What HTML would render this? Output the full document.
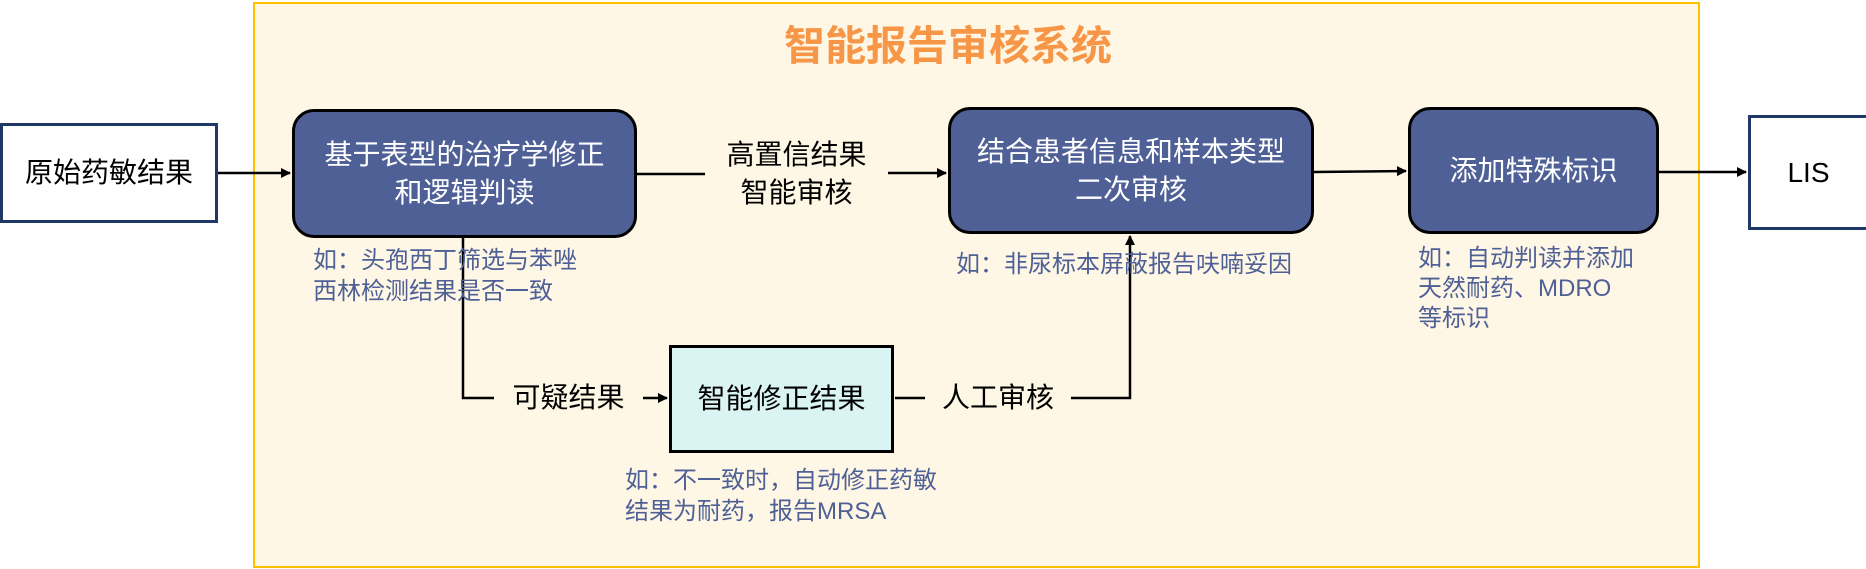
<!DOCTYPE html>
<html><head><meta charset="utf-8"><style>
body{margin:0;width:1866px;height:569px;background:#fff;position:relative;overflow:hidden;font-family:"Liberation Sans","Noto Sans CJK SC",sans-serif}
.a{position:absolute;box-sizing:border-box}
.frame{left:253px;top:2px;width:1447px;height:566px;border:2px solid #FFC000;background:#FFF7E5}
.b{display:flex;align-items:center;justify-content:center;text-align:center;line-height:38px;font-size:28px}
.dark{background:#4F6096;border:3px solid #000;border-radius:22px;color:#fff}
.note{color:#4F6096;font-size:24px;line-height:31px;white-space:nowrap}
.lbl{font-size:28px;line-height:38px;text-align:center;color:#000;white-space:nowrap}
</style></head><body>
<div class="a frame"></div>
<div class="a" style="left:650px;top:12px;width:596px;text-align:center;font-size:41px;font-weight:bold;color:#F79646">智能报告审核系统</div>
<svg class="a" style="left:0;top:0" width="1866" height="569">
<defs><marker id="m" markerWidth="10" markerHeight="10" refX="9" refY="5" orient="auto" markerUnits="userSpaceOnUse"><path d="M0,0 L10,5 L0,10 Z" fill="#000"/></marker></defs>
<g stroke="#000" stroke-width="2.5" fill="none">
<line x1="218" y1="173" x2="290" y2="173" marker-end="url(#m)"/>
<line x1="637" y1="174" x2="705" y2="174"/>
<line x1="888" y1="173" x2="946" y2="173" marker-end="url(#m)"/>
<line x1="1314" y1="172" x2="1406" y2="171" marker-end="url(#m)"/>
<line x1="1659" y1="172" x2="1746" y2="172" marker-end="url(#m)"/>
<polyline points="463,238 463,398 494,398"/>
<line x1="643" y1="398" x2="667" y2="398" marker-end="url(#m)"/>
<line x1="895" y1="398" x2="925" y2="398"/>
<polyline points="1071,398 1130,398 1130,236" marker-end="url(#m)"/>
</g></svg>
<div class="a b" style="left:0;top:123px;width:218px;height:100px;background:#fff;border:3px solid #1F3864;color:#000">原始药敏结果</div>
<div class="a b dark" style="left:292px;top:109px;width:345px;height:129px">基于表型的治疗学修正<br>和逻辑判读</div>
<div class="a b dark" style="left:948px;top:107px;width:366px;height:127px">结合患者信息和样本类型<br>二次审核</div>
<div class="a b dark" style="left:1408px;top:107px;width:251px;height:127px">添加特殊标识</div>
<div class="a b" style="left:1748px;top:115px;width:118px;height:115px;background:#fff;border:3px solid #1F3864;border-right:none;color:#000">LIS</div>
<div class="a b" style="left:669px;top:345px;width:225px;height:108px;background:#DAF3F3;border:3px solid #000;color:#000">智能修正结果</div>
<div class="a lbl" style="left:705px;top:136px;width:183px">高置信结果<br>智能审核</div>
<div class="a lbl" style="left:494px;top:379px;width:149px">可疑结果</div>
<div class="a lbl" style="left:925px;top:379px;width:146px">人工审核</div>
<div class="a note" style="left:313px;top:245px">如：头孢西丁筛选与苯唑<br>西林检测结果是否一致</div>
<div class="a note" style="left:956px;top:249px">如：非尿标本屏蔽报告呋喃妥因</div>
<div class="a note" style="left:1418px;top:244px;line-height:30px">如：自动判读并添加<br>天然耐药、MDRO<br>等标识</div>
<div class="a note" style="left:625px;top:465px">如：不一致时，自动修正药敏<br>结果为耐药，报告MRSA</div>
</body></html>
